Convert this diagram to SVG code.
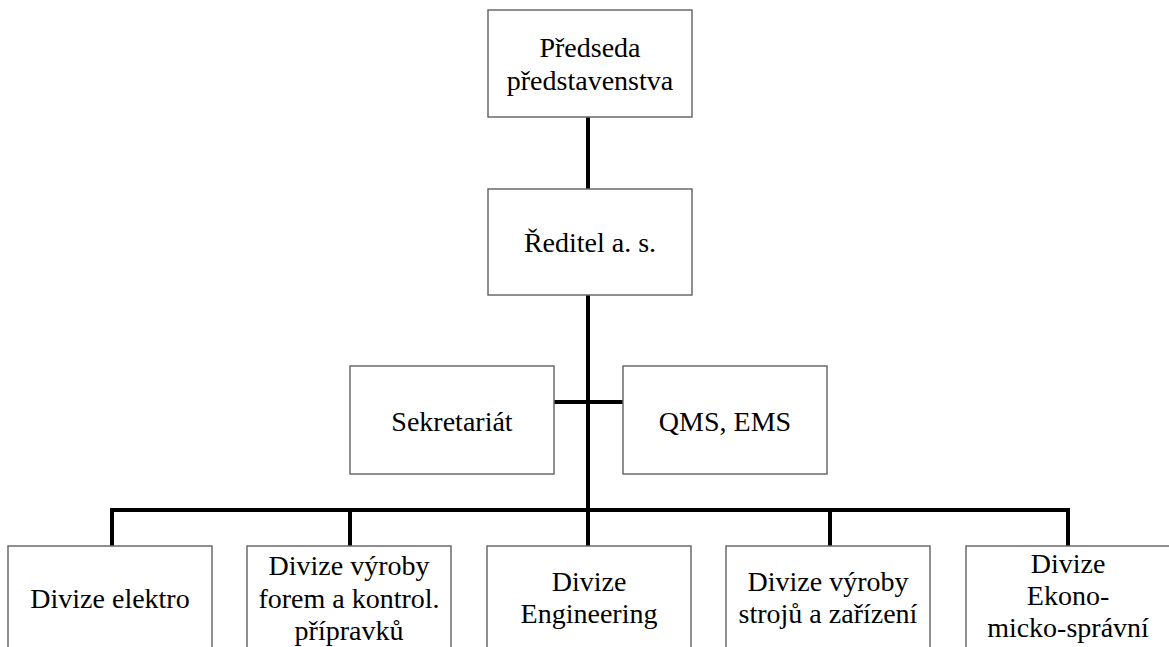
<svg xmlns="http://www.w3.org/2000/svg" width="1169" height="647" viewBox="0 0 1169 647">
<style>
.box{fill:#fff;stroke:#6a6a6a;stroke-width:1.5}
.c{stroke:#000;stroke-width:4;fill:none}
</style>
<rect width="1169" height="647" fill="#fff"/>
<g id="connectors">
<line class="c" x1="588" y1="117" x2="588" y2="189"/>
<line class="c" x1="588" y1="295" x2="588" y2="546"/>
<line class="c" x1="554" y1="402" x2="623" y2="402"/>
<polyline class="c" points="112,546 112,510 1068,510 1068,546"/>
<line class="c" x1="350" y1="510" x2="350" y2="546"/>
<line class="c" x1="830" y1="510" x2="830" y2="546"/>
</g>
<g font-family="Liberation Serif, serif" font-size="28" fill="#000" text-anchor="middle">
<g id="predseda">
<rect class="box" x="488" y="10" width="204" height="107"/>
<text x="590" y="57">Předseda</text>
<text x="590" y="90">představenstva</text>
</g>
<g id="reditel">
<rect class="box" x="488" y="189" width="204" height="106"/>
<text x="590" y="252">Ředitel a. s.</text>
</g>
<g id="sekretariat">
<rect class="box" x="350" y="366" width="204" height="108"/>
<text x="452" y="431">Sekretariát</text>
</g>
<g id="qms">
<rect class="box" x="623" y="366" width="204" height="108"/>
<text x="725" y="431">QMS, EMS</text>
</g>
<g id="elektro">
<rect class="box" x="8" y="546" width="204" height="120"/>
<text x="110" y="608">Divize elektro</text>
</g>
<g id="forem">
<rect class="box" x="247" y="546" width="204" height="120"/>
<text x="349" y="575">Divize výroby</text>
<text x="349" y="608">forem a kontrol.</text>
<text x="349" y="640">přípravků</text>
</g>
<g id="engineering">
<rect class="box" x="487" y="546" width="204" height="120"/>
<text x="589" y="591">Divize</text>
<text x="589" y="623">Engineering</text>
</g>
<g id="stroje">
<rect class="box" x="726" y="546" width="204" height="120"/>
<text x="828" y="591">Divize výroby</text>
<text x="828" y="623">strojů a zařízení</text>
</g>
<g id="ekonomicko">
<rect class="box" x="966" y="546" width="204" height="120"/>
<text x="1068" y="573">Divize</text>
<text x="1068" y="605">Ekono-</text>
<text x="1068" y="637">micko-správní</text>
</g>
</g>
</svg>
